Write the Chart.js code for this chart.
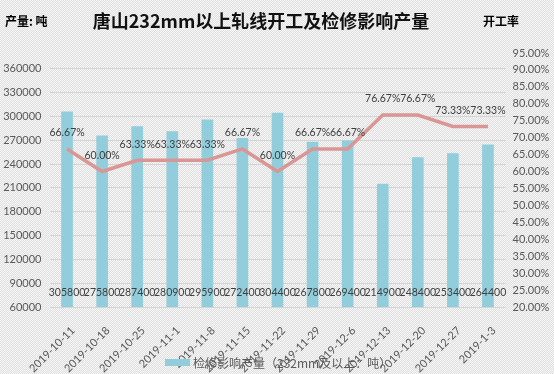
<!DOCTYPE html>
<html>
<head>
<meta charset="utf-8">
<script src="https://cdn.jsdelivr.net/npm/chart.js@4"></script>
<style>
    html, body { margin: 0; padding: 0; }
    body {
        width: 554px; height: 374px; overflow: hidden; position: relative;
        background: repeating-conic-gradient(#e0e0e0 0% 25%, #f6f6f6 0% 50%) 0 0 / 2px 2px;
        font-family: Lato, "Noto Sans CJK SC", sans-serif;
    }
    #wrap { position: absolute; left: 0; top: 0; width: 554px; height: 374px; }
    .lbl { position: absolute; color: #000; font-weight: bold; white-space: nowrap; font-family: "Noto Sans CJK SC", sans-serif; }
    #title { left: 0; width: 522px; top: 7px; text-align: center; font-size: 18px; line-height: 26px; color: #111; }
    #unitL { left: 5px; top: 13px; font-size: 12px; line-height: 16px; }
    #unitR { left: 483px; top: 13px; font-size: 12px; line-height: 16px; }
    #legend { position: absolute; left: 165px; top: 354px; height: 16px; display: flex; align-items: center; font-size: 12px; color: #595959; font-family: "Noto Sans CJK SC", sans-serif; white-space: nowrap; }
    #legend .box { width: 25px; height: 7px; background: #92cddc; margin-right: 3px; }
</style>
</head>
<body>
<div id="wrap"><canvas id="chart" width="554" height="374"></canvas></div>
<div class="lbl" id="unitL">产量: 吨</div>
<div class="lbl" id="title">唐山232mm以上轧线开工及检修影响产量</div>
<div class="lbl" id="unitR">开工率</div>
<div id="legend"><span class="box"></span><span>检修影响产量（232mm及以上：吨）</span></div>
<script>
// ---- datos ----
const weekLabels = ['2019-10-11', '2019-10-18', '2019-10-25', '2019-11-1', '2019-11-8', '2019-11-15', '2019-11-22',
    '2019-11-29', '2019-12-6', '2019-12-13', '2019-12-20', '2019-12-27', '2019-1-3'];
const lostOutput = [305800, 275800, 287400, 280900, 295900, 272400, 304400, 267800, 269400, 214900, 248400, 253400, 264400];
const operatingRate = [66.67, 60.00, 63.33, 63.33, 63.33, 66.67, 60.00, 66.67, 66.67, 76.67, 76.67, 73.33, 73.33];
const leftTicks = [60000, 90000, 120000, 150000, 180000, 210000, 240000, 270000, 300000, 330000, 360000];
const legendName = '检修影响产量（232mm及以上：吨）';

const axisFont = { family: 'Lato', size: 11 };

// etiquetas de valores (sin plugin externo)
const valueLabels = {
    id: 'valueLabels',
    afterDatasetsDraw(chart) {
        const ctx = chart.ctx;
        ctx.save();
        ctx.font = '10.5px Lato';
        ctx.fillStyle = '#404040';
        ctx.textAlign = 'center';
        ctx.textBaseline = 'middle';
        const bottom = chart.chartArea.bottom;
        chart.getDatasetMeta(1).data.forEach((bar, i) => {
            ctx.fillText(lostOutput[i], bar.x, bottom - 14);
        });
        chart.getDatasetMeta(0).data.forEach((pt, i) => {
            ctx.fillText(operatingRate[i].toFixed(2) + '%', pt.x, pt.y - 16);
        });
        ctx.restore();
    }
};

const ctx = document.getElementById('chart').getContext('2d');
new Chart(ctx, {
    data: {
        labels: weekLabels,
        datasets: [
            {
                type: 'line',
                label: '开工率',
                data: operatingRate,
                yAxisID: 'yR',
                borderColor: '#d99694',
                borderWidth: 3.5,
                pointRadius: 0,
                tension: 0,
                order: 0
            },
            {
                type: 'bar',
                label: legendName,
                data: lostOutput,
                yAxisID: 'yL',
                backgroundColor: '#92cddc',
                barThickness: 11,
                order: 1
            }
        ]
    },
    options: {
        responsive: false,
        animation: false,
        layout: { padding: { top: 53, left: 0, right: 0, bottom: 0 } },
        plugins: { legend: { display: false }, tooltip: { enabled: false }, title: { display: false } },
        scales: {
            x: {
                grid: { display: false },
                border: { display: false },
                ticks: { color: '#595959', font: axisFont, maxRotation: 45, minRotation: 45, autoSkip: false, padding: 9, labelOffset: 6 },
                afterFit: s => { s.height = 67; }
            },
            yL: {
                position: 'left',
                min: 60000,
                max: 380000,
                afterBuildTicks: s => { s.ticks = leftTicks.map(v => ({ value: v })); },
                grid: { color: '#d4d4d4', drawTicks: false },
                border: { display: false },
                ticks: { color: '#595959', font: axisFont, padding: 8, callback: v => String(v) },
                afterFit: s => { s.width = 49.5; }
            },
            yR: {
                position: 'right',
                min: 20,
                max: 95,
                grid: { display: false, drawTicks: false },
                border: { display: false },
                ticks: { stepSize: 5, color: '#595959', font: axisFont, padding: 7, callback: v => v.toFixed(2) + '%' },
                afterFit: s => { s.width = 48.5; }
            }
        }
    },
    plugins: [valueLabels]
});
</script>
</body>
</html>
